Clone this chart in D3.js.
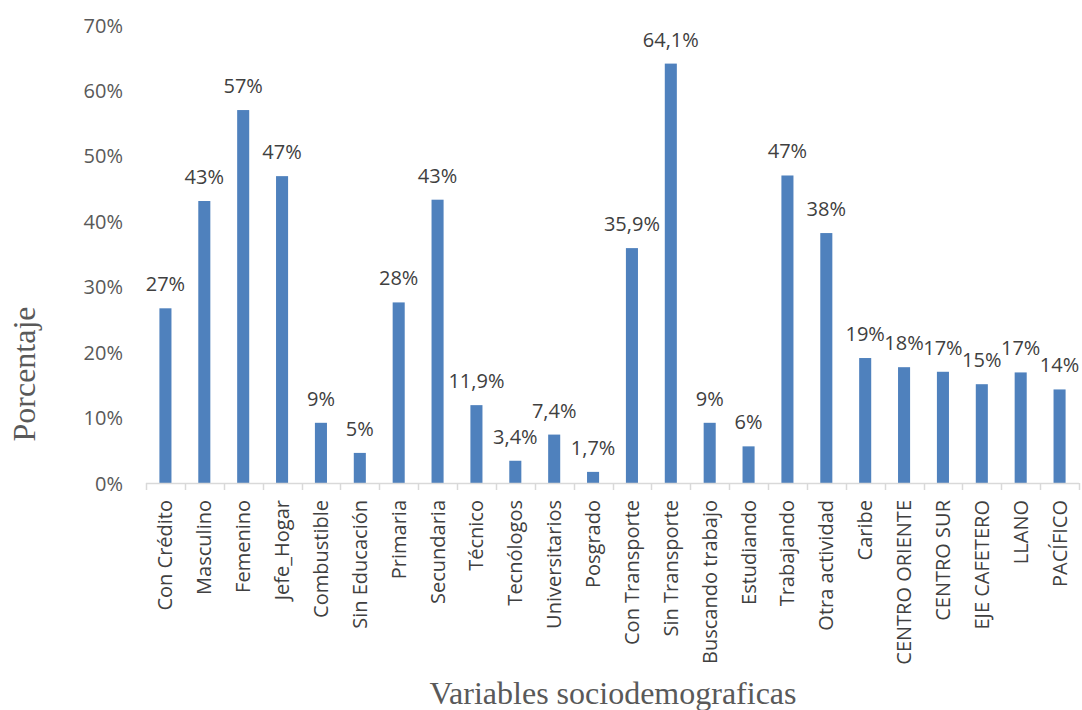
<!DOCTYPE html>
<html>
<head>
<meta charset="utf-8">
<script src="https://cdn.jsdelivr.net/npm/d3@7"></script>
<style>
  html, body { margin: 0; padding: 0; background: #fff; }
  svg { display: block; }
</style>
</head>
<body>
<svg id="chart" width="1082" height="710"></svg>
<script>
// Socio-demographic variables and their shares (%)
const categories = [
  "Con Crédito", "Masculino", "Femenino", "Jefe_Hogar", "Combustible",
  "Sin Educación", "Primaria", "Secundaria", "Técnico", "Tecnólogos",
  "Universitarios", "Posgrado", "Con Transporte", "Sin Transporte",
  "Buscando trabajo", "Estudiando", "Trabajando", "Otra actividad",
  "Caribe", "CENTRO ORIENTE", "CENTRO SUR", "EJE CAFETERO", "LLANO", "PACÍFICO"
];
const values = [
  26.7, 43.1, 57.0, 46.9, 9.2,
  4.6, 27.6, 43.3, 11.9, 3.4,
  7.4, 1.7, 35.9, 64.1,
  9.2, 5.6, 47.0, 38.2,
  19.1, 17.7, 17.0, 15.1, 16.9, 14.3
];
// decimals shown in each data label
const labelDecimals = [
  0, 0, 0, 0, 0,
  0, 0, 0, 1, 1,
  1, 1, 1, 1,
  0, 0, 0, 0,
  0, 0, 0, 0, 0, 0
];
const yTicks = [0, 10, 20, 30, 40, 50, 60, 70];

const svg = d3.select("#chart");
const x0 = 146, x1 = 1079, yBase = 483, yTop = 25;
const sans = "'Open Sans', sans-serif";
const serif = "'Liberation Serif', 'Times New Roman', serif";

const x = d3.scaleBand().domain(categories).range([x0, x1]).paddingInner(0.69).paddingOuter(0.345);
const y = d3.scaleLinear().domain([0, 70]).range([yBase, yTop]);

const fmtNum = (v, d) => v.toFixed(d).replace(".", ",") + "%";

// y-axis labels (no line, no gridlines)
const yAxis = d3.axisLeft(y).tickValues(yTicks).tickSize(0).tickPadding(0)
  .tickFormat(d => d + "%");
const gy = svg.append("g").attr("transform", `translate(123,0)`).call(yAxis);
gy.select(".domain").remove();
gy.selectAll("text")
  .attr("font-family", sans)
  .attr("font-size", 20)
  .attr("fill", "#595959")
  .attr("dy", "0.35em");

// bars
svg.append("g").selectAll("rect")
  .data(values)
  .join("rect")
  .attr("x", (d, i) => x(categories[i]))
  .attr("width", x.bandwidth())
  .attr("y", d => y(d))
  .attr("height", d => yBase - y(d))
  .attr("fill", "#4f81bd");

// data labels
svg.append("g").selectAll("text")
  .data(values)
  .join("text")
  .attr("x", (d, i) => x(categories[i]) + x.bandwidth() / 2)
  .attr("y", d => y(d) - 17)
  .attr("text-anchor", "middle")
  .attr("font-family", sans)
  .attr("font-size", 20)
  .attr("fill", "#404040")
  .text((d, i) => fmtNum(d, labelDecimals[i]));

// x axis: baseline with tick marks at category boundaries
const gx = svg.append("g");
gx.append("line")
  .attr("x1", x0).attr("x2", x1)
  .attr("y1", yBase + 0.5).attr("y2", yBase + 0.5)
  .attr("stroke", "#d9d9d9").attr("stroke-width", 1.5);
const bounds = categories.map(c => x(c) - x.step() * x.paddingInner() / 2);
bounds.push(x1);
gx.selectAll("line.tick")
  .data(bounds)
  .join("line")
  .attr("class", "tick")
  .attr("x1", d => Math.round(d) + 0.5).attr("x2", d => Math.round(d) + 0.5)
  .attr("y1", yBase).attr("y2", yBase + 7)
  .attr("stroke", "#d9d9d9").attr("stroke-width", 1.5);

// category labels, rotated
gx.selectAll("text")
  .data(categories)
  .join("text")
  .attr("transform", d => `translate(${x(d) + x.bandwidth() / 2 + 7},${yBase + 17}) rotate(-90)`)
  .attr("text-anchor", "end")
  .attr("font-family", sans)
  .attr("font-size", 20)
  .attr("fill", "#404040")
  .text(d => d);

// axis titles
svg.append("text")
  .attr("transform", `translate(35,374) rotate(-90)`)
  .attr("text-anchor", "middle")
  .attr("font-family", serif)
  .attr("font-size", 32)
  .attr("fill", "#595959")
  .text("Porcentaje");

svg.append("text")
  .attr("x", 613)
  .attr("y", 704)
  .attr("text-anchor", "middle")
  .attr("font-family", serif)
  .attr("font-size", 32)
  .attr("fill", "#595959")
  .text("Variables sociodemograficas");
</script>
</body>
</html>
